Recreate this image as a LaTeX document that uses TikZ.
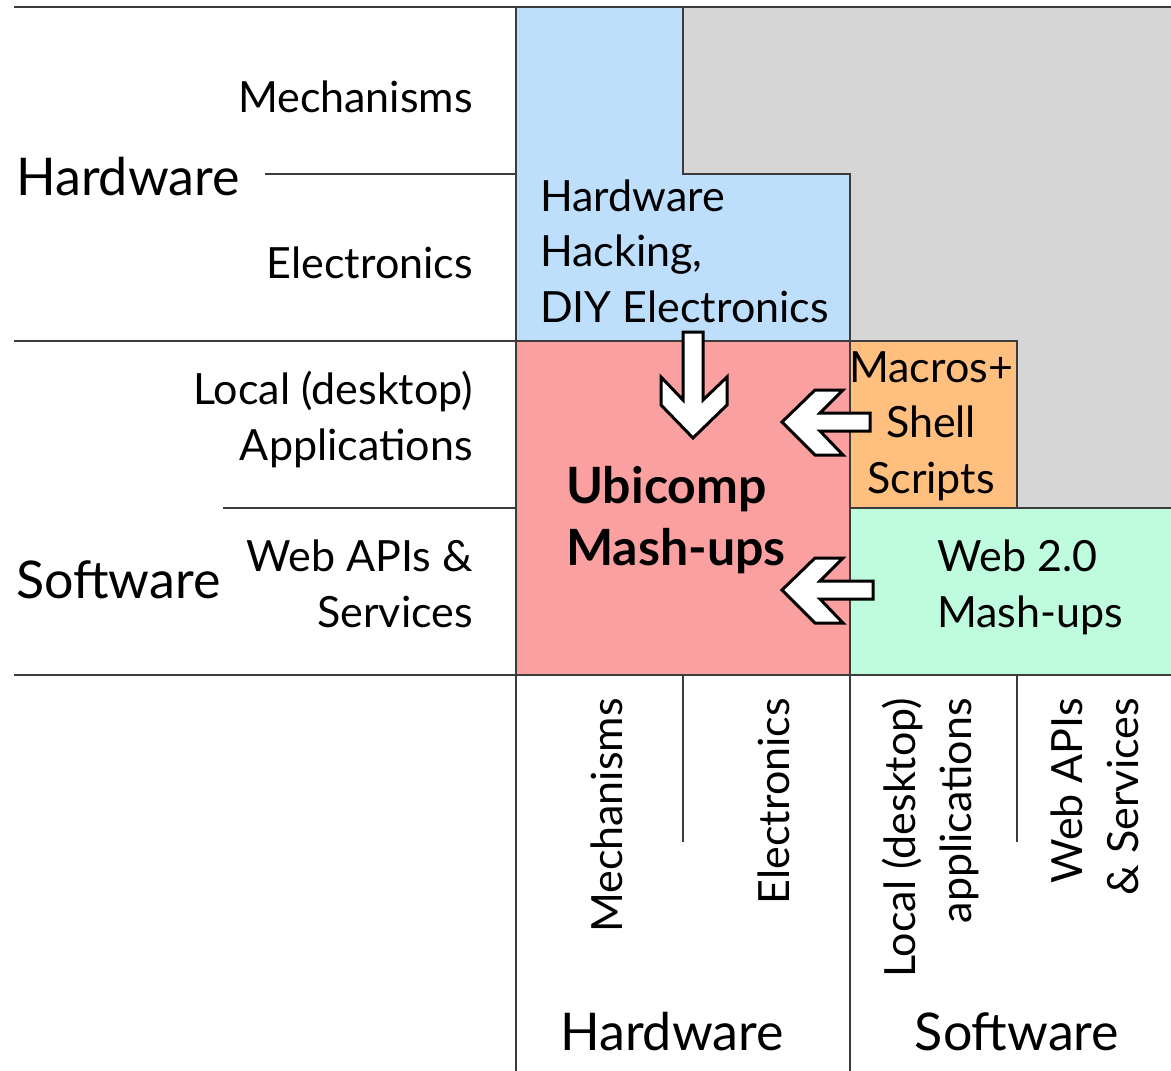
\documentclass[tikz,border=0pt]{standalone}
\usepackage{fontspec}
\setmainfont{Lato}
\usepackage{tikz}
\definecolor{hwblue}{RGB}{190,223,252}
\definecolor{restgray}{RGB}{214,214,214}
\definecolor{ubired}{RGB}{250,160,160}
\definecolor{macorange}{RGB}{255,191,127}
\definecolor{webgreen}{RGB}{191,252,222}
\definecolor{linegray}{RGB}{60,60,60}
\begin{document}
\begin{tikzpicture}[x=1pt,y=-1pt,
  rule/.style = {draw=linegray, line width=2.6pt},
  small/.style = {inner sep=0pt, font=\fontsize{43}{55.5}\selectfont},
  big/.style = {inner sep=0pt, font=\fontsize{52}{60}\selectfont},
  heavy/.style = {inner sep=0pt, font=\fontsize{50}{62}\selectfont\bfseries},
  blockarrow/.style = {draw=black, fill=white, line width=3pt, line join=miter}]
\useasboundingbox (0,0) rectangle (1171,1071);
\fill[white] (0,0) rectangle (1171,1071);
% fields
\fill[hwblue] (516,7) -- (683,7) -- (683,174) -- (850,174) -- (850,341) -- (516,341) -- cycle;
\fill[restgray] (683,7) -- (1171,7) -- (1171,508) -- (1017,508) -- (1017,341) -- (850,341) -- (850,174) -- (683,174) -- cycle;
\fill[ubired] (516,341) rectangle (850,675);
\fill[macorange] (850,341) rectangle (1017,508);
\fill[webgreen] (850,508) rectangle (1171,675);
% grid
\draw[rule] (14,7) -- (1171,7);
\draw[rule] (14,341) -- (1017,341) -- (1017,508);
\draw[rule] (14,675) -- (1171,675);
\draw[rule] (265,174) -- (516,174);
\draw[rule] (223,508) -- (516,508);
\draw[rule] (850,508) -- (1171,508);
\draw[rule] (516,7) -- (516,1071);
\draw[rule] (683,7) -- (683,174) -- (850,174) -- (850,1071);
\draw[rule] (683,675) -- (683,842);
\draw[rule] (1017,675) -- (1017,842);
% row labels
\node[big, anchor=base west] (hwrow) at (16,195) {Hardware};
\node[big, anchor=base west] (swrow) at (16,598) {Software};
\node[small, anchor=base east] (mechrow) at (473,112) {Mechanisms};
\node[small, anchor=base east] (elecrow) at (473,278) {Electronics};
\node[small, anchor=base east, align=right] (localrow) at (473,460) {Local (desktop)\\Applications};
\node[small, anchor=base east, align=right] (webrow) at (473,627) {Web APIs \&\\Services};
% column labels
\node[small, rotate=90, anchor=base east] (mechcol) at (622,698) {Mechanisms};
\node[small, rotate=90, anchor=base east] (eleccol) at (789,698) {Electronics};
\node[small, rotate=90, anchor=base east, align=right] (localcol) at (971,698) {Local (desktop)\\applications};
\node[small, rotate=90, anchor=base east, align=right] (webcol) at (1138,698) {Web APIs\\\& Services};
\node[big, anchor=base] (hwcol) at (672,1050) {Hardware};
\node[big, anchor=base] (swcol) at (1017,1050) {Software};
% cells
\node[small, anchor=base west, align=left] (hack) at (540,322) {Hardware\\Hacking,\\DIY Electronics};
\node[small, anchor=base, align=center] (macros) at (931,493) {Macros+\\Shell\\Scripts};
\node[small, anchor=base west, align=left] (web2) at (937,627) {Web 2.0\\Mash-ups};
\node[heavy, anchor=base west, align=left] (ubi) at (566,565) {Ubicomp\\Mash-ups};
% arrows
\draw[blockarrow] (683,332) -- (703,332) -- (703,400) -- (727,377) -- (727,405) -- (693,438) -- (661,405) -- (661,377) -- (683,400) -- cycle;
\draw[blockarrow] (870,413) -- (870,431) -- (820,431) -- (843,455) -- (815,455) -- (782,422) -- (815,390) -- (843,390) -- (820,413) -- cycle;
\draw[blockarrow] (873,581) -- (873,599) -- (820,599) -- (843,623) -- (815,623) -- (782,590) -- (815,558) -- (843,558) -- (820,581) -- cycle;
\end{tikzpicture}
\end{document}
